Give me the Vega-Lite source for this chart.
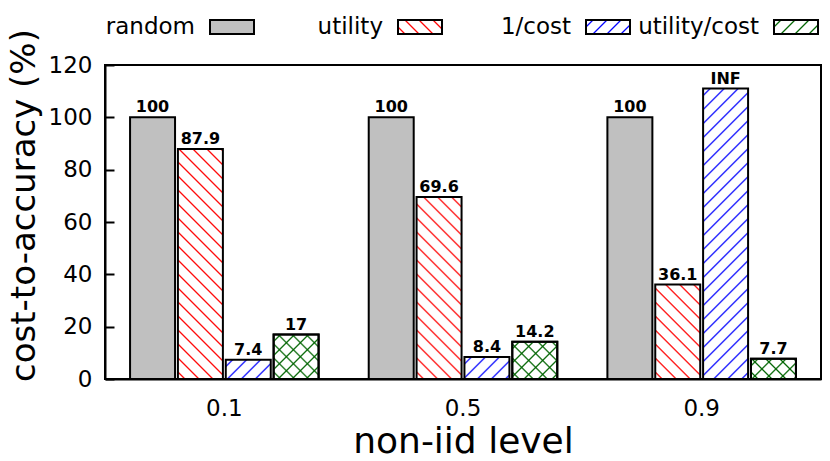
{
  "$schema": "https://vega.github.io/schema/vega-lite/v6.json",
  "width": 716,
  "height": 314,
  "autosize": {"type": "none"},
  "padding": {"left": 105, "top": 65, "right": 9, "bottom": 82},
  "background": "white",
  "config": {
    "view": {"stroke": "black", "strokeWidth": 2},
    "font": "DejaVu Sans",
    "axis": {"labelColor": "black", "titleColor": "black", "domainColor": "black", "domainWidth": 2, "grid": false, "labelFont": "DejaVu Sans", "titleFont": "DejaVu Sans", "titleFontWeight": "normal"},
    "axisY": {"tickSize": -9, "labelPadding": 22, "tickWidth": 2, "tickColor": "black", "labelFontSize": 23, "titleFontSize": 34, "titleX": -81, "titleY": 140, "titleBaseline": "middle"},
    "axisX": {"ticks": false, "labelPadding": 18, "labelAngle": 0, "labelFontSize": 23, "titleFontSize": 36, "titleBaseline": "alphabetic", "titleY": 73},
    "legend": {
      "orient": "none", "legendX": 104, "legendY": -61, "direction": "horizontal", "columns": 4,
      "symbolType": "M-1,-0.32H1V0.32H-1Z", "symbolSize": 1936, "symbolStrokeWidth": 2, "symbolOpacity": 1,
      "labelFontSize": 23, "labelFont": "DejaVu Sans", "labelColor": "black", "labelAlign": "right", "labelOffset": -60,
      "columnPadding": 4, "gridAlign": "all", "padding": 0
    }
  },
  "data": {"values": [
    {"level": "0.1", "series": "random", "value": 100, "label": "100"},
    {"level": "0.1", "series": "utility", "value": 87.9, "label": "87.9"},
    {"level": "0.1", "series": "1/cost", "value": 7.4, "label": "7.4"},
    {"level": "0.1", "series": "utility/cost", "value": 17, "label": "17"},
    {"level": "0.5", "series": "random", "value": 100, "label": "100"},
    {"level": "0.5", "series": "utility", "value": 69.6, "label": "69.6"},
    {"level": "0.5", "series": "1/cost", "value": 8.4, "label": "8.4"},
    {"level": "0.5", "series": "utility/cost", "value": 14.2, "label": "14.2"},
    {"level": "0.9", "series": "random", "value": 100, "label": "100"},
    {"level": "0.9", "series": "utility", "value": 36.1, "label": "36.1"},
    {"level": "0.9", "series": "1/cost", "value": 111, "label": "INF"},
    {"level": "0.9", "series": "utility/cost", "value": 7.7, "label": "7.7"}
  ]},
  "encoding": {
    "x": {"field": "level", "type": "ordinal", "sort": ["0.1", "0.5", "0.9"], "scale": {"paddingInner": 0.21, "paddingOuter": 0.105}, "title": "non-iid level"},
    "xOffset": {"field": "series", "type": "nominal", "sort": ["random", "utility", "1/cost", "utility/cost"], "scale": {"paddingInner": 0.06, "paddingOuter": 0}},
    "y": {"field": "value", "type": "quantitative", "scale": {"domain": [0, 120], "nice": false}, "axis": {"values": [0, 20, 40, 60, 80, 100, 120]}, "title": "cost-to-accuracy (%)"}
  },
  "layer": [
    {
      "mark": {"type": "bar", "strokeWidth": 2},
      "encoding": {
        "stroke": {
          "field": "series", "type": "nominal", "title": null,
          "sort": ["random", "utility", "1/cost", "utility/cost"],
          "scale": {"domain": ["random", "utility", "1/cost", "utility/cost"], "range": ["black", "black", "black", "black"]},
          "legend": {"title": null}
        },
        "fill": {
          "field": "series", "type": "nominal", "title": null,
          "sort": ["random", "utility", "1/cost", "utility/cost"],
          "scale": {"domain": ["random", "utility", "1/cost", "utility/cost"], "range": [
            "#c0c0c0",
            {"expr": "{gradient: 'linear', x1: 0, y1: 1, x2: 1.4432, y2: 0.5382, stops: [{offset: 0.075, color: '#fff'}, {offset: 0.1, color: '#f00'}, {offset: 0.125, color: '#fff'}, {offset: 0.275, color: '#fff'}, {offset: 0.3, color: '#f00'}, {offset: 0.325, color: '#fff'}, {offset: 0.475, color: '#fff'}, {offset: 0.5, color: '#f00'}, {offset: 0.525, color: '#fff'}, {offset: 0.675, color: '#fff'}, {offset: 0.7, color: '#f00'}, {offset: 0.725, color: '#fff'}, {offset: 0.875, color: '#fff'}, {offset: 0.9, color: '#f00'}, {offset: 0.925, color: '#fff'}]}"},
            {"expr": "{gradient: 'linear', x1: 0, y1: 0, x2: 1.4432, y2: 0.4618, stops: [{offset: 0.075, color: '#fff'}, {offset: 0.1, color: '#00f'}, {offset: 0.125, color: '#fff'}, {offset: 0.275, color: '#fff'}, {offset: 0.3, color: '#00f'}, {offset: 0.325, color: '#fff'}, {offset: 0.475, color: '#fff'}, {offset: 0.5, color: '#00f'}, {offset: 0.525, color: '#fff'}, {offset: 0.675, color: '#fff'}, {offset: 0.7, color: '#00f'}, {offset: 0.725, color: '#fff'}, {offset: 0.875, color: '#fff'}, {offset: 0.9, color: '#00f'}, {offset: 0.925, color: '#fff'}]}"},
            {"expr": "{gradient: 'linear', x1: 0, y1: 0, x2: 1.4432, y2: 0.4618, stops: [{offset: 0.075, color: '#fff'}, {offset: 0.1, color: '#006400'}, {offset: 0.125, color: '#fff'}, {offset: 0.275, color: '#fff'}, {offset: 0.3, color: '#006400'}, {offset: 0.325, color: '#fff'}, {offset: 0.475, color: '#fff'}, {offset: 0.5, color: '#006400'}, {offset: 0.525, color: '#fff'}, {offset: 0.675, color: '#fff'}, {offset: 0.7, color: '#006400'}, {offset: 0.725, color: '#fff'}, {offset: 0.875, color: '#fff'}, {offset: 0.9, color: '#006400'}, {offset: 0.925, color: '#fff'}]}"}
          ]},
          "legend": {"title": null},
          "condition": [
            {"test": "datum.level === '0.1' && datum.series === 'utility'", "value": {"gradient": "linear", "x1": 0, "y1": 1, "x2": 0.2294, "y2": -0.1725, "stops": [
              {"offset": 0.01875, "color": "#fff"}, {"offset": 0.025, "color": "#f00"}, {"offset": 0.03125, "color": "#fff"},
              {"offset": 0.06875, "color": "#fff"}, {"offset": 0.075, "color": "#f00"}, {"offset": 0.08125, "color": "#fff"},
              {"offset": 0.11875, "color": "#fff"}, {"offset": 0.125, "color": "#f00"}, {"offset": 0.13125, "color": "#fff"},
              {"offset": 0.16875, "color": "#fff"}, {"offset": 0.175, "color": "#f00"}, {"offset": 0.18125, "color": "#fff"},
              {"offset": 0.21875, "color": "#fff"}, {"offset": 0.225, "color": "#f00"}, {"offset": 0.23125, "color": "#fff"},
              {"offset": 0.26875, "color": "#fff"}, {"offset": 0.275, "color": "#f00"}, {"offset": 0.28125, "color": "#fff"},
              {"offset": 0.31875, "color": "#fff"}, {"offset": 0.325, "color": "#f00"}, {"offset": 0.33125, "color": "#fff"},
              {"offset": 0.36875, "color": "#fff"}, {"offset": 0.375, "color": "#f00"}, {"offset": 0.38125, "color": "#fff"},
              {"offset": 0.41875, "color": "#fff"}, {"offset": 0.425, "color": "#f00"}, {"offset": 0.43125, "color": "#fff"},
              {"offset": 0.46875, "color": "#fff"}, {"offset": 0.475, "color": "#f00"}, {"offset": 0.48125, "color": "#fff"},
              {"offset": 0.51875, "color": "#fff"}, {"offset": 0.525, "color": "#f00"}, {"offset": 0.53125, "color": "#fff"},
              {"offset": 0.56875, "color": "#fff"}, {"offset": 0.575, "color": "#f00"}, {"offset": 0.58125, "color": "#fff"},
              {"offset": 0.61875, "color": "#fff"}, {"offset": 0.625, "color": "#f00"}, {"offset": 0.63125, "color": "#fff"},
              {"offset": 0.66875, "color": "#fff"}, {"offset": 0.675, "color": "#f00"}, {"offset": 0.68125, "color": "#fff"},
              {"offset": 0.71875, "color": "#fff"}, {"offset": 0.725, "color": "#f00"}, {"offset": 0.73125, "color": "#fff"},
              {"offset": 0.76875, "color": "#fff"}, {"offset": 0.775, "color": "#f00"}, {"offset": 0.78125, "color": "#fff"},
              {"offset": 0.81875, "color": "#fff"}, {"offset": 0.825, "color": "#f00"}, {"offset": 0.83125, "color": "#fff"},
              {"offset": 0.86875, "color": "#fff"}, {"offset": 0.875, "color": "#f00"}, {"offset": 0.88125, "color": "#fff"},
              {"offset": 0.91875, "color": "#fff"}, {"offset": 0.925, "color": "#f00"}, {"offset": 0.93125, "color": "#fff"},
              {"offset": 0.96875, "color": "#fff"}, {"offset": 0.975, "color": "#f00"}, {"offset": 0.98125, "color": "#fff"}]}},
            {"test": "datum.level === '0.5' && datum.series === 'utility'", "value": {"gradient": "linear", "x1": 0, "y1": 1, "x2": 0.3043, "y2": -0.2316, "stops": [
              {"offset": 0.02206, "color": "#fff"}, {"offset": 0.02941, "color": "#f00"}, {"offset": 0.03676, "color": "#fff"},
              {"offset": 0.08088, "color": "#fff"}, {"offset": 0.08824, "color": "#f00"}, {"offset": 0.09559, "color": "#fff"},
              {"offset": 0.13971, "color": "#fff"}, {"offset": 0.14706, "color": "#f00"}, {"offset": 0.15441, "color": "#fff"},
              {"offset": 0.19853, "color": "#fff"}, {"offset": 0.20588, "color": "#f00"}, {"offset": 0.21324, "color": "#fff"},
              {"offset": 0.25735, "color": "#fff"}, {"offset": 0.26471, "color": "#f00"}, {"offset": 0.27206, "color": "#fff"},
              {"offset": 0.31618, "color": "#fff"}, {"offset": 0.32353, "color": "#f00"}, {"offset": 0.33088, "color": "#fff"},
              {"offset": 0.375, "color": "#fff"}, {"offset": 0.38235, "color": "#f00"}, {"offset": 0.38971, "color": "#fff"},
              {"offset": 0.43382, "color": "#fff"}, {"offset": 0.44118, "color": "#f00"}, {"offset": 0.44853, "color": "#fff"},
              {"offset": 0.49265, "color": "#fff"}, {"offset": 0.5, "color": "#f00"}, {"offset": 0.50735, "color": "#fff"},
              {"offset": 0.55147, "color": "#fff"}, {"offset": 0.55882, "color": "#f00"}, {"offset": 0.56618, "color": "#fff"},
              {"offset": 0.61029, "color": "#fff"}, {"offset": 0.61765, "color": "#f00"}, {"offset": 0.625, "color": "#fff"},
              {"offset": 0.66912, "color": "#fff"}, {"offset": 0.67647, "color": "#f00"}, {"offset": 0.68382, "color": "#fff"},
              {"offset": 0.72794, "color": "#fff"}, {"offset": 0.73529, "color": "#f00"}, {"offset": 0.74265, "color": "#fff"},
              {"offset": 0.78676, "color": "#fff"}, {"offset": 0.79412, "color": "#f00"}, {"offset": 0.80147, "color": "#fff"},
              {"offset": 0.84559, "color": "#fff"}, {"offset": 0.85294, "color": "#f00"}, {"offset": 0.86029, "color": "#fff"},
              {"offset": 0.90441, "color": "#fff"}, {"offset": 0.91176, "color": "#f00"}, {"offset": 0.91912, "color": "#fff"},
              {"offset": 0.96324, "color": "#fff"}, {"offset": 0.97059, "color": "#f00"}, {"offset": 0.97794, "color": "#fff"}]}},
            {"test": "datum.level === '0.9' && datum.series === 'utility'", "value": {"gradient": "linear", "x1": 0, "y1": 1, "x2": 0.5754, "y2": -0.2079, "stops": [
              {"offset": 0.0375, "color": "#fff"}, {"offset": 0.05, "color": "#f00"}, {"offset": 0.0625, "color": "#fff"},
              {"offset": 0.1375, "color": "#fff"}, {"offset": 0.15, "color": "#f00"}, {"offset": 0.1625, "color": "#fff"},
              {"offset": 0.2375, "color": "#fff"}, {"offset": 0.25, "color": "#f00"}, {"offset": 0.2625, "color": "#fff"},
              {"offset": 0.3375, "color": "#fff"}, {"offset": 0.35, "color": "#f00"}, {"offset": 0.3625, "color": "#fff"},
              {"offset": 0.4375, "color": "#fff"}, {"offset": 0.45, "color": "#f00"}, {"offset": 0.4625, "color": "#fff"},
              {"offset": 0.5375, "color": "#fff"}, {"offset": 0.55, "color": "#f00"}, {"offset": 0.5625, "color": "#fff"},
              {"offset": 0.6375, "color": "#fff"}, {"offset": 0.65, "color": "#f00"}, {"offset": 0.6625, "color": "#fff"},
              {"offset": 0.7375, "color": "#fff"}, {"offset": 0.75, "color": "#f00"}, {"offset": 0.7625, "color": "#fff"},
              {"offset": 0.8375, "color": "#fff"}, {"offset": 0.85, "color": "#f00"}, {"offset": 0.8625, "color": "#fff"},
              {"offset": 0.9375, "color": "#fff"}, {"offset": 0.95, "color": "#f00"}, {"offset": 0.9625, "color": "#fff"}]}},
            {"test": "datum.level === '0.1' && datum.series === '1/cost'", "value": {"gradient": "linear", "x1": 0, "y1": 0, "x2": 1.3126, "y2": 0.5647, "stops": [
              {"offset": 0.075, "color": "#fff"}, {"offset": 0.1, "color": "#00f"}, {"offset": 0.125, "color": "#fff"},
              {"offset": 0.275, "color": "#fff"}, {"offset": 0.3, "color": "#00f"}, {"offset": 0.325, "color": "#fff"},
              {"offset": 0.475, "color": "#fff"}, {"offset": 0.5, "color": "#00f"}, {"offset": 0.525, "color": "#fff"},
              {"offset": 0.675, "color": "#fff"}, {"offset": 0.7, "color": "#00f"}, {"offset": 0.725, "color": "#fff"},
              {"offset": 0.875, "color": "#fff"}, {"offset": 0.9, "color": "#00f"}, {"offset": 0.925, "color": "#fff"}]}},
            {"test": "datum.level === '0.5' && datum.series === '1/cost'", "value": {"gradient": "linear", "x1": 0, "y1": 0, "x2": 1.2559, "y2": 0.6135, "stops": [
              {"offset": 0.075, "color": "#fff"}, {"offset": 0.1, "color": "#00f"}, {"offset": 0.125, "color": "#fff"},
              {"offset": 0.275, "color": "#fff"}, {"offset": 0.3, "color": "#00f"}, {"offset": 0.325, "color": "#fff"},
              {"offset": 0.475, "color": "#fff"}, {"offset": 0.5, "color": "#00f"}, {"offset": 0.525, "color": "#fff"},
              {"offset": 0.675, "color": "#fff"}, {"offset": 0.7, "color": "#00f"}, {"offset": 0.725, "color": "#fff"},
              {"offset": 0.875, "color": "#fff"}, {"offset": 0.9, "color": "#00f"}, {"offset": 0.925, "color": "#fff"}]}},
            {"test": "datum.level === '0.9' && datum.series === '1/cost'", "value": {"gradient": "linear", "x1": 0, "y1": 0, "x2": 0.175, "y2": 1.1297, "stops": [
              {"offset": 0.01563, "color": "#fff"}, {"offset": 0.02083, "color": "#00f"}, {"offset": 0.02604, "color": "#fff"},
              {"offset": 0.05729, "color": "#fff"}, {"offset": 0.0625, "color": "#00f"}, {"offset": 0.06771, "color": "#fff"},
              {"offset": 0.09896, "color": "#fff"}, {"offset": 0.10417, "color": "#00f"}, {"offset": 0.10938, "color": "#fff"},
              {"offset": 0.14063, "color": "#fff"}, {"offset": 0.14583, "color": "#00f"}, {"offset": 0.15104, "color": "#fff"},
              {"offset": 0.18229, "color": "#fff"}, {"offset": 0.1875, "color": "#00f"}, {"offset": 0.19271, "color": "#fff"},
              {"offset": 0.22396, "color": "#fff"}, {"offset": 0.22917, "color": "#00f"}, {"offset": 0.23438, "color": "#fff"},
              {"offset": 0.26563, "color": "#fff"}, {"offset": 0.27083, "color": "#00f"}, {"offset": 0.27604, "color": "#fff"},
              {"offset": 0.30729, "color": "#fff"}, {"offset": 0.3125, "color": "#00f"}, {"offset": 0.31771, "color": "#fff"},
              {"offset": 0.34896, "color": "#fff"}, {"offset": 0.35417, "color": "#00f"}, {"offset": 0.35938, "color": "#fff"},
              {"offset": 0.39063, "color": "#fff"}, {"offset": 0.39583, "color": "#00f"}, {"offset": 0.40104, "color": "#fff"},
              {"offset": 0.43229, "color": "#fff"}, {"offset": 0.4375, "color": "#00f"}, {"offset": 0.44271, "color": "#fff"},
              {"offset": 0.47396, "color": "#fff"}, {"offset": 0.47917, "color": "#00f"}, {"offset": 0.48438, "color": "#fff"},
              {"offset": 0.51563, "color": "#fff"}, {"offset": 0.52083, "color": "#00f"}, {"offset": 0.52604, "color": "#fff"},
              {"offset": 0.55729, "color": "#fff"}, {"offset": 0.5625, "color": "#00f"}, {"offset": 0.56771, "color": "#fff"},
              {"offset": 0.59896, "color": "#fff"}, {"offset": 0.60417, "color": "#00f"}, {"offset": 0.60938, "color": "#fff"},
              {"offset": 0.64063, "color": "#fff"}, {"offset": 0.64583, "color": "#00f"}, {"offset": 0.65104, "color": "#fff"},
              {"offset": 0.68229, "color": "#fff"}, {"offset": 0.6875, "color": "#00f"}, {"offset": 0.69271, "color": "#fff"},
              {"offset": 0.72396, "color": "#fff"}, {"offset": 0.72917, "color": "#00f"}, {"offset": 0.73438, "color": "#fff"},
              {"offset": 0.76563, "color": "#fff"}, {"offset": 0.77083, "color": "#00f"}, {"offset": 0.77604, "color": "#fff"},
              {"offset": 0.80729, "color": "#fff"}, {"offset": 0.8125, "color": "#00f"}, {"offset": 0.81771, "color": "#fff"},
              {"offset": 0.84896, "color": "#fff"}, {"offset": 0.85417, "color": "#00f"}, {"offset": 0.85938, "color": "#fff"},
              {"offset": 0.89063, "color": "#fff"}, {"offset": 0.89583, "color": "#00f"}, {"offset": 0.90104, "color": "#fff"},
              {"offset": 0.93229, "color": "#fff"}, {"offset": 0.9375, "color": "#00f"}, {"offset": 0.94271, "color": "#fff"},
              {"offset": 0.97396, "color": "#fff"}, {"offset": 0.97917, "color": "#00f"}, {"offset": 0.98438, "color": "#fff"}]}},
            {"test": "datum.level === '0.1' && datum.series === 'utility/cost'", "value": {"gradient": "linear", "x1": 0, "y1": 1, "x2": 1.1015, "y2": -0.0887, "stops": [
              {"offset": 0.05357, "color": "#fff"}, {"offset": 0.07143, "color": "#006400"}, {"offset": 0.08929, "color": "#fff"},
              {"offset": 0.19643, "color": "#fff"}, {"offset": 0.21429, "color": "#006400"}, {"offset": 0.23214, "color": "#fff"},
              {"offset": 0.33929, "color": "#fff"}, {"offset": 0.35714, "color": "#006400"}, {"offset": 0.375, "color": "#fff"},
              {"offset": 0.48214, "color": "#fff"}, {"offset": 0.5, "color": "#006400"}, {"offset": 0.51786, "color": "#fff"},
              {"offset": 0.625, "color": "#fff"}, {"offset": 0.64286, "color": "#006400"}, {"offset": 0.66071, "color": "#fff"},
              {"offset": 0.76786, "color": "#fff"}, {"offset": 0.78571, "color": "#006400"}, {"offset": 0.80357, "color": "#fff"},
              {"offset": 0.91071, "color": "#fff"}, {"offset": 0.92857, "color": "#006400"}, {"offset": 0.94643, "color": "#fff"}]}},
            {"test": "datum.level === '0.5' && datum.series === 'utility/cost'", "value": {"gradient": "linear", "x1": 0, "y1": 1, "x2": 1.1098, "y2": 0.0835, "stops": [
              {"offset": 0.0625, "color": "#fff"}, {"offset": 0.08333, "color": "#006400"}, {"offset": 0.10417, "color": "#fff"},
              {"offset": 0.22917, "color": "#fff"}, {"offset": 0.25, "color": "#006400"}, {"offset": 0.27083, "color": "#fff"},
              {"offset": 0.39583, "color": "#fff"}, {"offset": 0.41667, "color": "#006400"}, {"offset": 0.4375, "color": "#fff"},
              {"offset": 0.5625, "color": "#fff"}, {"offset": 0.58333, "color": "#006400"}, {"offset": 0.60417, "color": "#fff"},
              {"offset": 0.72917, "color": "#fff"}, {"offset": 0.75, "color": "#006400"}, {"offset": 0.77083, "color": "#fff"},
              {"offset": 0.89583, "color": "#fff"}, {"offset": 0.91667, "color": "#006400"}, {"offset": 0.9375, "color": "#fff"}]}},
            {"test": "datum.level === '0.9' && datum.series === 'utility/cost'", "value": {"gradient": "linear", "x1": 0, "y1": 1, "x2": 1.2958, "y2": 0.4198, "stops": [
              {"offset": 0.075, "color": "#fff"}, {"offset": 0.1, "color": "#006400"}, {"offset": 0.125, "color": "#fff"},
              {"offset": 0.275, "color": "#fff"}, {"offset": 0.3, "color": "#006400"}, {"offset": 0.325, "color": "#fff"},
              {"offset": 0.475, "color": "#fff"}, {"offset": 0.5, "color": "#006400"}, {"offset": 0.525, "color": "#fff"},
              {"offset": 0.675, "color": "#fff"}, {"offset": 0.7, "color": "#006400"}, {"offset": 0.725, "color": "#fff"},
              {"offset": 0.875, "color": "#fff"}, {"offset": 0.9, "color": "#006400"}, {"offset": 0.925, "color": "#fff"}]}}
          ]
        }
      }
    },
    {
      "transform": [{"filter": "datum.series === 'utility/cost'"}],
      "mark": {"type": "bar", "stroke": "black", "strokeWidth": 2},
      "encoding": {
        "fill": {
          "condition": [
            {"test": "datum.level === '0.1'", "value": {"gradient": "linear", "x1": 0, "y1": 0, "x2": 1.1015, "y2": 1.0887, "stops": [
              {"offset": 0.05357, "color": "#00640000"}, {"offset": 0.07143, "color": "#006400"}, {"offset": 0.08929, "color": "#00640000"},
              {"offset": 0.19643, "color": "#00640000"}, {"offset": 0.21429, "color": "#006400"}, {"offset": 0.23214, "color": "#00640000"},
              {"offset": 0.33929, "color": "#00640000"}, {"offset": 0.35714, "color": "#006400"}, {"offset": 0.375, "color": "#00640000"},
              {"offset": 0.48214, "color": "#00640000"}, {"offset": 0.5, "color": "#006400"}, {"offset": 0.51786, "color": "#00640000"},
              {"offset": 0.625, "color": "#00640000"}, {"offset": 0.64286, "color": "#006400"}, {"offset": 0.66071, "color": "#00640000"},
              {"offset": 0.76786, "color": "#00640000"}, {"offset": 0.78571, "color": "#006400"}, {"offset": 0.80357, "color": "#00640000"},
              {"offset": 0.91071, "color": "#00640000"}, {"offset": 0.92857, "color": "#006400"}, {"offset": 0.94643, "color": "#00640000"}]}},
            {"test": "datum.level === '0.5'", "value": {"gradient": "linear", "x1": 0, "y1": 0, "x2": 1.1098, "y2": 0.9165, "stops": [
              {"offset": 0.0625, "color": "#00640000"}, {"offset": 0.08333, "color": "#006400"}, {"offset": 0.10417, "color": "#00640000"},
              {"offset": 0.22917, "color": "#00640000"}, {"offset": 0.25, "color": "#006400"}, {"offset": 0.27083, "color": "#00640000"},
              {"offset": 0.39583, "color": "#00640000"}, {"offset": 0.41667, "color": "#006400"}, {"offset": 0.4375, "color": "#00640000"},
              {"offset": 0.5625, "color": "#00640000"}, {"offset": 0.58333, "color": "#006400"}, {"offset": 0.60417, "color": "#00640000"},
              {"offset": 0.72917, "color": "#00640000"}, {"offset": 0.75, "color": "#006400"}, {"offset": 0.77083, "color": "#00640000"},
              {"offset": 0.89583, "color": "#00640000"}, {"offset": 0.91667, "color": "#006400"}, {"offset": 0.9375, "color": "#00640000"}]}},
            {"test": "datum.level === '0.9'", "value": {"gradient": "linear", "x1": 0, "y1": 0, "x2": 1.2958, "y2": 0.5802, "stops": [
              {"offset": 0.075, "color": "#00640000"}, {"offset": 0.1, "color": "#006400"}, {"offset": 0.125, "color": "#00640000"},
              {"offset": 0.275, "color": "#00640000"}, {"offset": 0.3, "color": "#006400"}, {"offset": 0.325, "color": "#00640000"},
              {"offset": 0.475, "color": "#00640000"}, {"offset": 0.5, "color": "#006400"}, {"offset": 0.525, "color": "#00640000"},
              {"offset": 0.675, "color": "#00640000"}, {"offset": 0.7, "color": "#006400"}, {"offset": 0.725, "color": "#00640000"},
              {"offset": 0.875, "color": "#00640000"}, {"offset": 0.9, "color": "#006400"}, {"offset": 0.925, "color": "#00640000"}]}}
          ],
          "value": "transparent"
        }
      }
    },
    {
      "mark": {"type": "text", "dy": -5, "baseline": "alphabetic", "fontWeight": "bold", "fontSize": 16, "font": "DejaVu Sans", "color": "black"},
      "encoding": {"text": {"field": "label", "type": "nominal"}}
    }
  ]
}
